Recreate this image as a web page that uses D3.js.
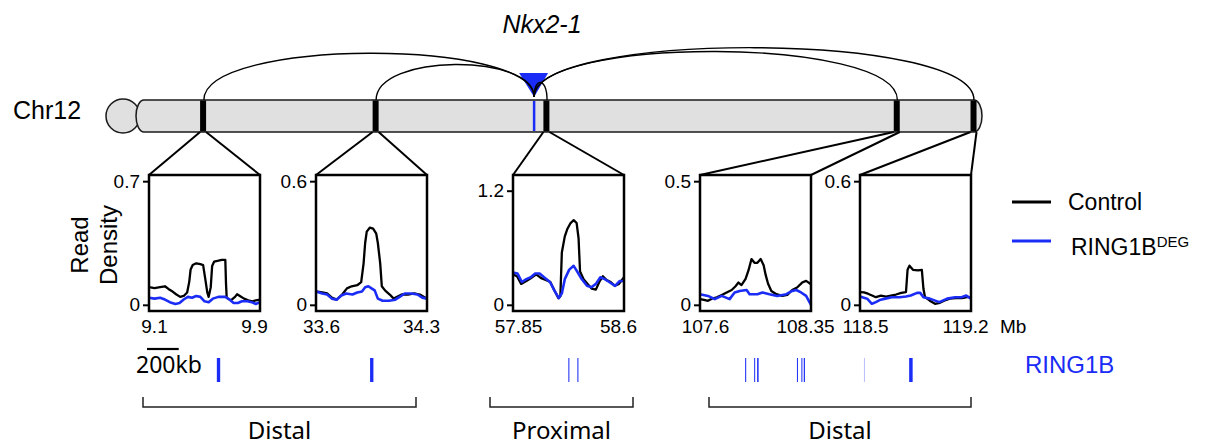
<!DOCTYPE html>
<html lang="en">
<head>
<meta charset="UTF-8">
<title>Nkx2-1 contacts on Chr12</title>
<script src="https://cdn.jsdelivr.net/npm/d3@7/dist/d3.min.js"></script>
<style>
  body { margin: 0; background: #fff; }
  svg { font-family: "Liberation Sans", Arial, sans-serif; }
</style>
</head>
<body>
<div id="container"></div>
<script>
const width = 1214;
const height = 448;
const blue = "#1a2cf5";

// chromosome
const chrLength = 120.13;
const nkx21Pos = 56.53;

// zoomed regions (Mb)
const regionStart = [9.1, 33.6, 57.85, 107.6, 118.5];
const regionEnd = [9.9, 34.3, 58.6, 108.35, 119.2];
const yLimit = [0.7, 0.6, 1.3, 0.5, 0.6];
const yTopTick = [0.7, 0.6, 1.2, 0.5, 0.6];
const xTickLabels = [["9.1", "9.9"], ["33.6", "34.3"], ["57.85", "58.6"], ["107.6", "108.35"], ["118.5", "119.2"]];

// read density, [Mb, value]
const control1 = [[9.10,0.10],[9.14,0.095],[9.18,0.10],[9.215,0.105],[9.24,0.09],[9.27,0.075],[9.295,0.06],[9.325,0.045],[9.35,0.05],[9.375,0.07],[9.39,0.13],[9.40,0.20],[9.415,0.225],[9.44,0.235],[9.47,0.23],[9.49,0.225],[9.505,0.15],[9.52,0.07],[9.53,0.045],[9.545,0.10],[9.555,0.22],[9.57,0.245],[9.60,0.25],[9.625,0.255],[9.65,0.255],[9.655,0.12],[9.66,0.04],[9.69,0.025],[9.72,0.045],[9.735,0.06],[9.755,0.05],[9.785,0.035],[9.815,0.025],[9.845,0.02],[9.87,0.025],[9.90,0.03]];
const ring1b1 = [[9.10,0.04],[9.14,0.035],[9.18,0.04],[9.215,0.03],[9.25,0.015],[9.29,0.005],[9.32,0.01],[9.35,0.03],[9.38,0.045],[9.41,0.04],[9.44,0.05],[9.47,0.045],[9.50,0.02],[9.53,0.015],[9.56,0.035],[9.60,0.045],[9.65,0.045],[9.68,0.03],[9.71,0.01],[9.74,0.01],[9.77,0.02],[9.81,0.02],[9.84,0.015],[9.87,0.005],[9.90,0.015]];

const control2 = [[33.60,0.065],[33.64,0.06],[33.67,0.055],[33.70,0.035],[33.73,0.025],[33.765,0.05],[33.795,0.08],[33.825,0.09],[33.86,0.095],[33.885,0.11],[33.90,0.20],[33.91,0.30],[33.92,0.355],[33.94,0.375],[33.96,0.37],[33.98,0.345],[33.99,0.30],[34.005,0.20],[34.015,0.09],[34.035,0.07],[34.065,0.05],[34.09,0.03],[34.115,0.04],[34.14,0.05],[34.18,0.05],[34.22,0.055],[34.255,0.05],[34.30,0.03]];
const ring1b2 = [[33.60,0.065],[33.64,0.055],[33.67,0.05],[33.70,0.03],[33.73,0.025],[33.76,0.045],[33.79,0.055],[33.83,0.05],[33.86,0.06],[33.89,0.065],[33.91,0.085],[33.93,0.09],[33.95,0.08],[33.97,0.07],[33.99,0.03],[34.02,0.02],[34.06,0.02],[34.10,0.025],[34.13,0.04],[34.16,0.055],[34.20,0.055],[34.24,0.05],[34.27,0.035],[34.30,0.03]];

const control3 = [[57.85,0.32],[57.877,0.30],[57.905,0.22],[57.94,0.25],[57.97,0.28],[58.007,0.32],[58.04,0.28],[58.075,0.26],[58.102,0.24],[58.13,0.15],[58.157,0.07],[58.17,0.09],[58.18,0.55],[58.20,0.72],[58.218,0.80],[58.239,0.86],[58.26,0.89],[58.28,0.86],[58.293,0.70],[58.303,0.35],[58.327,0.27],[58.354,0.22],[58.382,0.17],[58.41,0.16],[58.436,0.25],[58.457,0.30],[58.483,0.26],[58.51,0.24],[58.538,0.20],[58.566,0.22],[58.60,0.29]];
const ring1b3 = [[57.85,0.34],[57.88,0.33],[57.91,0.24],[57.94,0.27],[57.97,0.29],[58.00,0.33],[58.03,0.33],[58.06,0.29],[58.10,0.24],[58.13,0.15],[58.16,0.07],[58.18,0.12],[58.20,0.27],[58.23,0.37],[58.26,0.41],[58.28,0.36],[58.31,0.28],[58.35,0.20],[58.38,0.185],[58.41,0.22],[58.44,0.29],[58.47,0.27],[58.50,0.24],[58.54,0.20],[58.57,0.25],[58.60,0.25]];

const control4 = [[107.60,0.023],[107.627,0.02],[107.654,0.016],[107.68,0.025],[107.714,0.03],[107.747,0.04],[107.78,0.05],[107.814,0.06],[107.84,0.075],[107.86,0.09],[107.88,0.08],[107.908,0.105],[107.928,0.14],[107.948,0.185],[107.968,0.17],[107.988,0.17],[108.01,0.185],[108.03,0.16],[108.044,0.12],[108.06,0.085],[108.082,0.056],[108.116,0.043],[108.156,0.036],[108.19,0.04],[108.223,0.06],[108.256,0.07],[108.29,0.09],[108.317,0.097],[108.35,0.083]];
const ring1b4 = [[107.60,0.043],[107.654,0.036],[107.70,0.023],[107.747,0.036],[107.80,0.023],[107.834,0.05],[107.868,0.056],[107.915,0.06],[107.935,0.043],[107.988,0.043],[108.022,0.05],[108.069,0.043],[108.122,0.036],[108.183,0.043],[108.223,0.056],[108.25,0.06],[108.283,0.05],[108.317,0.036],[108.35,0.0]];

const control5 = [[118.50,0.062],[118.525,0.06],[118.55,0.054],[118.576,0.045],[118.60,0.037],[118.632,0.045],[118.664,0.04],[118.695,0.045],[118.727,0.05],[118.76,0.058],[118.79,0.062],[118.80,0.17],[118.812,0.19],[118.834,0.17],[118.866,0.167],[118.89,0.17],[118.90,0.078],[118.91,0.037],[118.94,0.02],[118.973,0.005],[119.004,0.01],[119.03,0.02],[119.067,0.03],[119.105,0.032],[119.143,0.032],[119.175,0.037],[119.20,0.037]];
const ring1b5 = [[118.50,0.04],[118.52,0.035],[118.545,0.03],[118.575,0.005],[118.60,0.013],[118.63,0.025],[118.66,0.03],[118.70,0.037],[118.75,0.037],[118.79,0.04],[118.82,0.045],[118.86,0.058],[118.88,0.058],[118.90,0.037],[118.94,0.03],[119.00,0.013],[119.05,0.03],[119.10,0.037],[119.14,0.037],[119.17,0.045],[119.20,0.03]];

const controlSeries = [control1, control2, control3, control4, control5];
const ring1bSeries = [ring1b1, ring1b2, ring1b3, ring1b4, ring1b5];

// RING1B peaks
const peakPanel = [0, 1, 2, 2, 3, 3, 3, 3, 3, 3, 4, 4];
const peakStart = [9.589, 33.941, 58.224, 58.285, 107.905, 107.966, 107.986, 108.255, 108.285, 108.301, 118.525, 118.81];
const peakEnd = [9.613, 33.962, 58.231, 58.292, 107.912, 107.972, 107.996, 108.261, 108.291, 108.309, 118.531, 118.832];
const peakScore = [1, 1, 1, 1, 1, 1, 1, 1, 1, 1, 0.3, 1];

const groupLabels = ["Distal", "Proximal", "Distal"];

// layout
const chrTop = 100, chrH = 32;
const panelLeft = [149, 316, 513, 700, 860];
const panelW = 111;
const boxTop = 175, boxBottom = 311;
const bracketX = [[143, 416], [490, 633], [709, 971]];
const labelInset = [5, -6];

const svg = d3.select("#container").append("svg")
    .attr("width", width)
    .attr("height", height);

const chrX = d3.scaleLinear().domain([0, chrLength]).range([136, 982]);
const nx = chrX(nkx21Pos);

// labels
svg.append("text")
    .attr("x", 13).attr("y", 119)
    .attr("font-size", 25)
    .text("Chr12");

svg.append("text")
    .attr("x", 542).attr("y", 33)
    .attr("text-anchor", "middle")
    .attr("font-size", 25)
    .attr("font-style", "italic")
    .text("Nkx2-1");

// chromosome body
const chr = svg.append("g");
chr.append("circle")
    .attr("cx", chrX(0) - 13).attr("cy", chrTop + chrH / 2).attr("r", 17)
    .attr("fill", "#e0e0e0").attr("stroke", "#1a1a1a").attr("stroke-width", 1.5);
chr.append("rect")
    .attr("x", chrX(0)).attr("y", chrTop)
    .attr("width", chrX(chrLength) - chrX(0)).attr("height", chrH)
    .attr("rx", 8).attr("ry", 16)
    .attr("fill", "#e0e0e0").attr("stroke", "#1a1a1a").attr("stroke-width", 1.5);

chr.selectAll("rect.band")
    .data(regionStart)
    .join("rect")
    .attr("class", "band")
    .attr("x", (d, i) => chrX(d))
    .attr("y", chrTop + 0.5)
    .attr("width", (d, i) => Math.max(6, chrX(regionEnd[i]) - chrX(d)))
    .attr("height", chrH - 1)
    .attr("fill", "#000");

chr.append("line")
    .attr("x1", nx).attr("x2", nx)
    .attr("y1", chrTop + 1).attr("y2", chrTop + chrH - 1)
    .attr("stroke", blue).attr("stroke-width", 2.5);

chr.append("path")
    .attr("d", `M${nx - 15},73 L${nx + 14},73 L${nx},97 Z`)
    .attr("fill", blue);

// contact arcs
const bandMid = regionStart.map((d, i) => chrX((d + regionEnd[i]) / 2) + 1);
svg.append("g")
    .selectAll("path")
    .data(bandMid)
    .join("path")
    .attr("d", d => {
        const rise = 10 + 2 * Math.sqrt(Math.abs(d - nx));
        const cy = chrTop - rise / 0.75;
        return `M${d},${chrTop} C${d},${cy} ${nx},${cy} ${nx},97`;
    })
    .attr("fill", "none")
    .attr("stroke", "#000")
    .attr("stroke-width", 1.4);

// zoom connectors
const conn = svg.append("g").attr("stroke", "#000").attr("stroke-width", 2);
regionStart.forEach((d, i) => {
    conn.append("line")
        .attr("x1", chrX(d)).attr("y1", chrTop + chrH)
        .attr("x2", panelLeft[i]).attr("y2", boxTop);
    conn.append("line")
        .attr("x1", Math.max(chrX(d) + 6, chrX(regionEnd[i]))).attr("y1", chrTop + chrH)
        .attr("x2", panelLeft[i] + panelW).attr("y2", boxTop);
});

// profile panels
const xScales = [];
regionStart.forEach((start, i) => {
    const x = d3.scaleLinear().domain([start, regionEnd[i]]).range([panelLeft[i], panelLeft[i] + panelW]);
    const pad = yLimit[i] * 0.05;
    const y = d3.scaleLinear().domain([-pad, yLimit[i] + pad]).range([boxBottom, boxTop]);
    xScales.push(x);

    const g = svg.append("g");
    const line = d3.line().x(d => x(d[0])).y(d => y(d[1]));

    g.append("path")
        .datum(controlSeries[i])
        .attr("d", line)
        .attr("fill", "none")
        .attr("stroke", "#000")
        .attr("stroke-width", 2.3)
        .attr("stroke-linejoin", "round");

    g.append("path")
        .datum(ring1bSeries[i])
        .attr("d", line)
        .attr("fill", "none")
        .attr("stroke", blue)
        .attr("stroke-width", 2.6)
        .attr("stroke-linejoin", "round");

    g.append("rect")
        .attr("x", panelLeft[i]).attr("y", boxTop)
        .attr("width", panelW).attr("height", boxBottom - boxTop)
        .attr("fill", "none")
        .attr("stroke", "#000")
        .attr("stroke-width", 2.5);

    const yAxis = g.append("g")
        .attr("transform", `translate(${panelLeft[i] - 1},0)`)
        .call(d3.axisLeft(y).tickValues([0, yTopTick[i]]).tickSize(5).tickPadding(3).tickFormat(d3.format("~g")));
    yAxis.select(".domain").remove();
    yAxis.selectAll("line").attr("stroke-width", 2);
    yAxis.selectAll("text").attr("font-size", 19).attr("font-family", "Liberation Sans, Arial, sans-serif").attr("fill", "#000");

    const xAxis = g.append("g")
        .attr("transform", `translate(0,${boxBottom})`)
        .call(d3.axisBottom(x).tickValues([start, regionEnd[i]]).tickSize(0).tickPadding(9)
            .tickFormat((d, j) => xTickLabels[i][j]));
    xAxis.select(".domain").remove();
    xAxis.selectAll("text")
        .attr("font-size", 19)
        .attr("font-family", "Liberation Sans, Arial, sans-serif")
        .attr("fill", "#000")
        .attr("dx", (d, j) => labelInset[j]);
});

svg.append("text")
    .attr("x", 1000).attr("y", 333)
    .attr("font-size", 19)
    .text("Mb");

// y title
const yTitle = svg.append("g").attr("font-size", 24).attr("text-anchor", "middle");
yTitle.append("text").attr("transform", "translate(88,245) rotate(-90)").text("Read");
yTitle.append("text").attr("transform", "translate(117,245) rotate(-90)").text("Density");

// legend
const legend = svg.append("g").attr("font-size", 23);
legend.append("line").attr("x1", 1012).attr("x2", 1051).attr("y1", 202).attr("y2", 202)
    .attr("stroke", "#000").attr("stroke-width", 3);
legend.append("text").attr("x", 1068).attr("y", 210).text("Control");
legend.append("line").attr("x1", 1012).attr("x2", 1051).attr("y1", 241).attr("y2", 241)
    .attr("stroke", blue).attr("stroke-width", 3);
const lt = legend.append("text").attr("x", 1071).attr("y", 255);
lt.append("tspan").text("RING1B");
lt.append("tspan").attr("font-size", 15).attr("dy", -8).text("DEG");

// scale bar
svg.append("line")
    .attr("x1", 147).attr("x2", 147 + xScales[1](regionStart[1] + 0.2) - xScales[1](regionStart[1]))
    .attr("y1", 349).attr("y2", 349)
    .attr("stroke", "#000").attr("stroke-width", 2.2);
svg.append("text")
    .attr("x", 136).attr("y", 373)
    .attr("font-size", 23)
    .attr("font-family", "Noto Sans, sans-serif")
    .text("200kb");

// RING1B peaks
svg.append("g")
    .selectAll("rect")
    .data(peakStart)
    .join("rect")
    .attr("x", (d, i) => xScales[peakPanel[i]](d))
    .attr("y", 358)
    .attr("width", (d, i) => Math.max(1, xScales[peakPanel[i]](peakEnd[i]) - xScales[peakPanel[i]](d)))
    .attr("height", 24)
    .attr("fill", blue)
    .attr("fill-opacity", (d, i) => peakScore[i]);

svg.append("text")
    .attr("x", 1025).attr("y", 373)
    .attr("font-size", 24)
    .attr("fill", blue)
    .text("RING1B");

// region brackets
const br = svg.append("g");
br.selectAll("path")
    .data(bracketX)
    .join("path")
    .attr("d", d => `M${d[0]},397 V407 H${d[1]} V397`)
    .attr("fill", "none")
    .attr("stroke", "#222")
    .attr("stroke-width", 1.5);
br.selectAll("text")
    .data(groupLabels)
    .join("text")
    .attr("x", (d, i) => (bracketX[i][0] + bracketX[i][1]) / 2)
    .attr("y", 439)
    .attr("text-anchor", "middle")
    .attr("font-size", 24)
    .attr("font-family", "Noto Sans, sans-serif")
    .text(d => d);
</script>
</body>
</html>
